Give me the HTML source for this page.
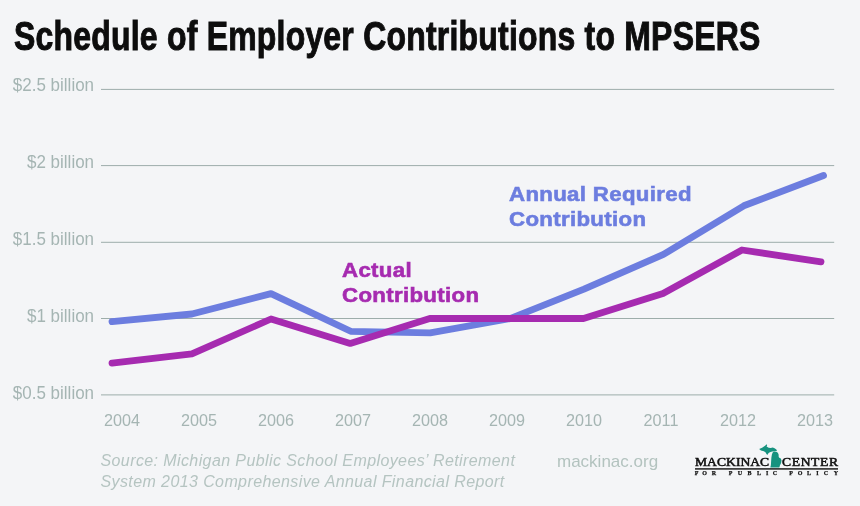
<!DOCTYPE html>
<html><head><meta charset="utf-8">
<style>
html,body{margin:0;padding:0;}
body{will-change:transform;width:860px;height:506px;overflow:hidden;background:#f4f5f7;position:relative;font-family:"Liberation Sans",sans-serif;}
.title{position:absolute;left:14px;top:14px;font-weight:bold;font-size:40px;color:#0d0d0d;white-space:nowrap;transform-origin:0 0;transform:scaleX(0.798);letter-spacing:0.3px;-webkit-text-stroke:1px #0d0d0d;}
.yl{position:absolute;right:766px;font-size:18px;line-height:20px;color:#a5b5b3;white-space:nowrap;transform-origin:100% 0;transform:scaleX(0.944);}
.xl{position:absolute;width:60px;margin-left:-30px;text-align:center;top:410.9px;font-size:16.2px;color:#a5b5b3;}
.ann{position:absolute;font-weight:bold;font-size:20.6px;line-height:25.2px;white-space:nowrap;transform-origin:0 0;transform:scaleX(1.08);letter-spacing:0.3px;-webkit-text-stroke:0.6px currentColor;}
.src{position:absolute;left:100.5px;top:450.8px;font-style:italic;font-size:16px;line-height:20.8px;letter-spacing:0.4px;color:#b5c4c1;white-space:nowrap;}
.web{position:absolute;left:557px;top:452px;font-size:17px;letter-spacing:0px;color:#b3c3bf;}
svg{position:absolute;left:0;top:0;}
.lg1{position:absolute;font-family:"Liberation Serif",serif;font-size:12.4px;line-height:14px;transform-origin:0 0;transform:scaleX(1.1);color:#111;white-space:nowrap;-webkit-text-stroke:0.55px #111;}
.lg2{position:absolute;top:469.5px;width:10px;text-align:center;font-family:"Liberation Serif",serif;font-weight:bold;font-size:6px;line-height:6px;color:#111;-webkit-text-stroke:0.25px #111;}
</style></head><body>
<div class="title">Schedule of Employer Contributions to MPSERS</div>
<svg width="860" height="506">
<g stroke="#9dadaa" stroke-width="1">
<line x1="101" y1="89.4" x2="834.2" y2="89.4"/>
<line x1="101" y1="165.6" x2="834.2" y2="165.6"/>
<line x1="101" y1="242.3" x2="834.2" y2="242.3"/>
<line x1="101" y1="318.5" x2="834.2" y2="318.5"/>
<line x1="101" y1="394.9" x2="834.2" y2="394.9"/>
</g>
<polyline fill="none" stroke="#6c7ddf" stroke-width="6.8" stroke-linecap="round" stroke-linejoin="round"
 points="112,321.6 191.9,314 271,293.6 350.7,331.3 430.2,332.8 510,318.6 584,289.2 663.5,254.4 743.8,205.8 823.5,175.5"/>
<polyline fill="none" stroke="#a62bb0" stroke-width="6.8" stroke-linecap="round" stroke-linejoin="round"
 points="112,363.2 191.9,353.8 271,319 350.2,343.4 429.8,318.5 508.5,318.5 583.5,318.5 663,293.6 742,250 821,261.8"/>
</svg>
<div class="yl" style="top:75.2px">$2.5 billion</div>
<div class="yl" style="top:151.5px">$2 billion</div>
<div class="yl" style="top:228.5px">$1.5 billion</div>
<div class="yl" style="top:305.5px">$1 billion</div>
<div class="yl" style="top:382.5px">$0.5 billion</div>
<div class="xl" style="left:122px">2004</div>
<div class="xl" style="left:199px">2005</div>
<div class="xl" style="left:276px">2006</div>
<div class="xl" style="left:353px">2007</div>
<div class="xl" style="left:430px">2008</div>
<div class="xl" style="left:507px">2009</div>
<div class="xl" style="left:584px">2010</div>
<div class="xl" style="left:661px">2011</div>
<div class="xl" style="left:738px">2012</div>
<div class="xl" style="left:815px">2013</div>
<div class="ann" style="left:341.5px;top:256.6px;color:#a62bb0">Actual<br>Contribution</div>
<div class="ann" style="left:509px;top:180.8px;color:#6c7ddf">Annual Required<br>Contribution</div>
<div class="src">Source: Michigan Public School Employees’ Retirement<br>System 2013 Comprehensive Annual Financial Report</div>
<div class="web">mackinac.org</div>
<div class="logo">
<div class="lg1" style="left:695px;top:455px">MACKINAC</div>
<div class="lg1" style="left:782px;top:455px;letter-spacing:0.55px">CENTER</div>
<div style="position:absolute;left:695px;top:467.9px;width:143.3px;height:1.9px;background:linear-gradient(#2e2e2e,#777)"></div>
<div class="lg2" style="left:691.5px">F</div><div class="lg2" style="left:699.5px">O</div><div class="lg2" style="left:709.0px">R</div><div class="lg2" style="left:725.5px">P</div><div class="lg2" style="left:735.0px">U</div><div class="lg2" style="left:744.5px">B</div><div class="lg2" style="left:754.0px">L</div><div class="lg2" style="left:762.2px">I</div><div class="lg2" style="left:770.0px">C</div><div class="lg2" style="left:786.0px">P</div><div class="lg2" style="left:795.0px">O</div><div class="lg2" style="left:804.0px">L</div><div class="lg2" style="left:812.5px">I</div><div class="lg2" style="left:821.0px">C</div><div class="lg2" style="left:831.0px">Y</div>
<svg width="35" height="30" viewBox="0 0 590 506" style="left:755px;top:440px">
<path fill="#17927f" d="M70,150 L120,130 L170,95 L195,72 L205,90 L195,110 L230,130 L265,135 L300,125 L330,140 L360,160 L372,180 L330,190 L290,195 L250,205 L225,225 L215,248 L195,240 L180,210 L150,190 L100,175 Z"/>
<path fill="#17927f" d="M318,195 L360,198 L385,215 L398,245 L400,285 L410,298 L435,310 L448,345 L440,390 L420,430 L410,462 L258,462 L268,420 L272,360 L276,300 L285,245 L298,210 Z"/>
</svg>
</div>
</body></html>
